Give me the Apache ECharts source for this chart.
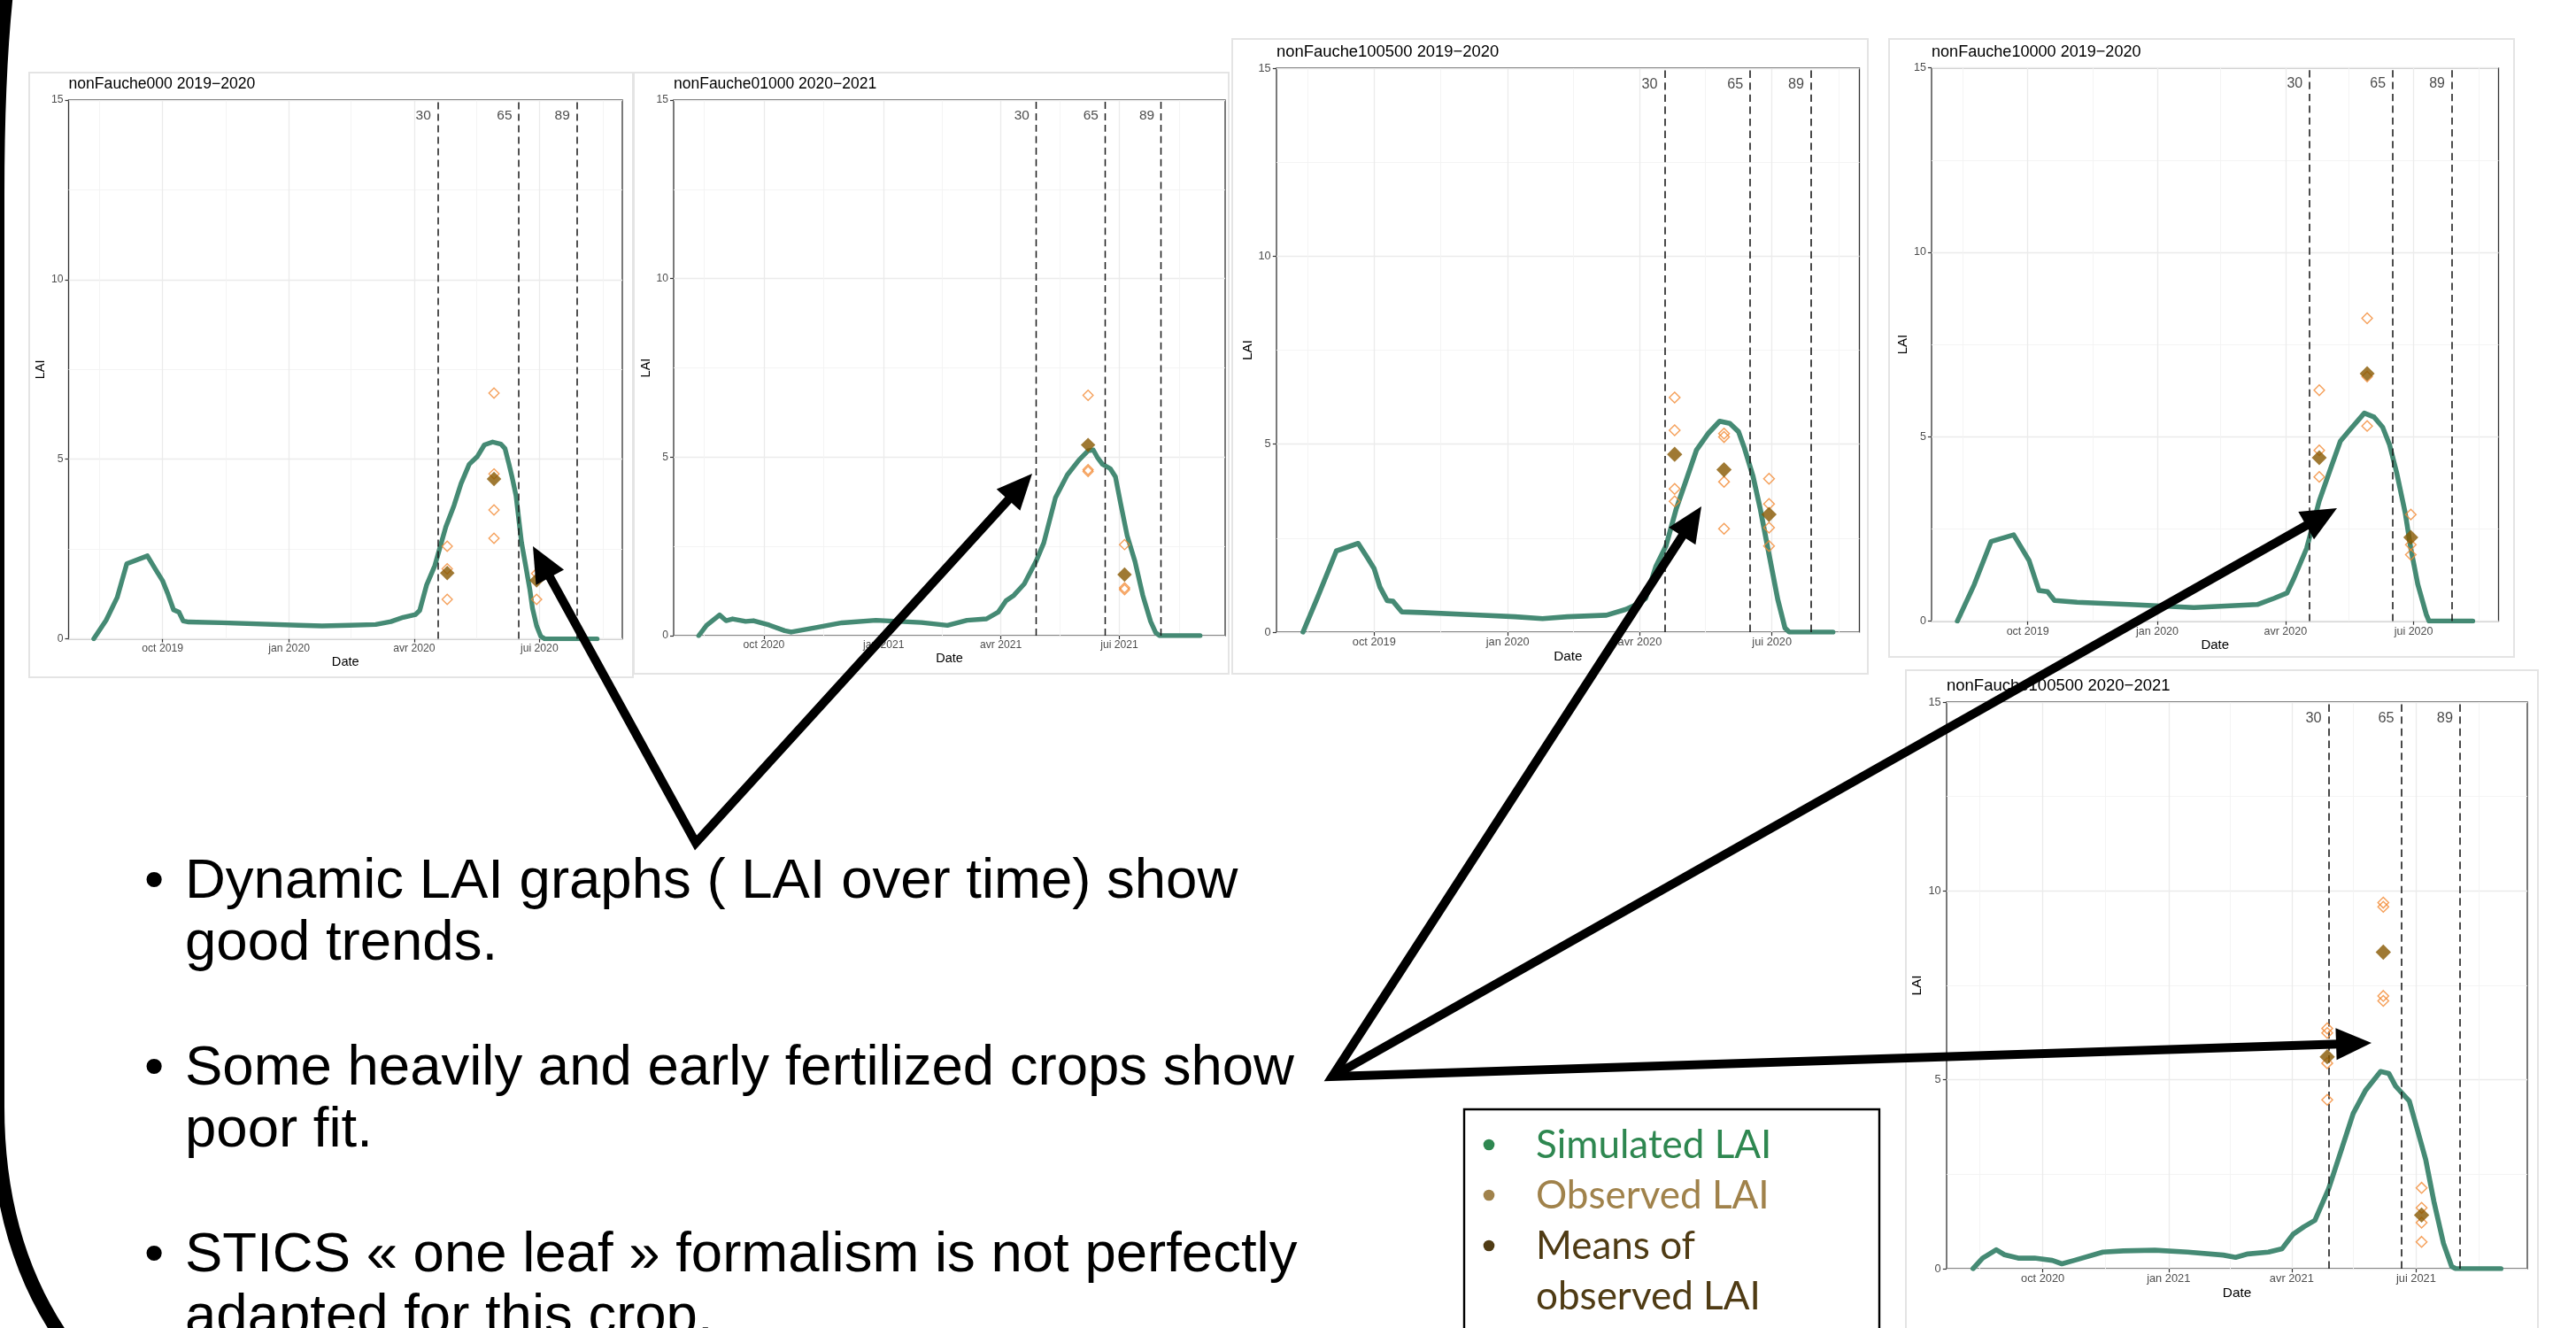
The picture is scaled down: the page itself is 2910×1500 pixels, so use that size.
<!DOCTYPE html>
<html><head><meta charset="utf-8">
<script src="https://cdn.jsdelivr.net/npm/echarts@6/dist/echarts.min.js"></script>
<style>html,body{margin:0;padding:0;background:#fff;overflow:hidden}#c{width:2910px;height:1500px}</style>
</head><body><div id="c"></div>
<script>
// ================= DATA =================
const Y_TICKS = [0, 5, 10, 15];
const STAGE_LABELS = ['30', '65', '89'];

// season 2019-2020 axis ticks / stages
const S1_TICK_DATES = ['2019-10-01', '2020-01-01', '2020-04-01', '2020-07-01'];
const S1_TICK_LABELS = ['oct 2019', 'jan 2020', 'avr 2020', 'jui 2020'];
const S1_MINOR_DATES = ['2019-08-16', '2019-11-16', '2020-02-15', '2020-05-16', '2020-08-16'];
const S1_STAGE_DATES = ['2020-04-18', '2020-06-16', '2020-07-28'];
// season 2020-2021
const S2_TICK_DATES = ['2020-10-01', '2021-01-01', '2021-04-01', '2021-07-01'];
const S2_TICK_LABELS = ['oct 2020', 'jan 2021', 'avr 2021', 'jui 2021'];
const S2_MINOR_DATES = ['2020-08-16', '2020-11-16', '2021-02-15', '2021-05-16', '2021-08-16'];
const S2_STAGE_DATES = ['2021-04-28', '2021-06-20', '2021-08-02'];

// ---- panel 1 ----
const P1_TITLE = 'nonFauche000 2019−2020';
const P1_SIM_DATES = ['2019-08-12','2019-08-21','2019-08-29','2019-09-05','2019-09-20','2019-09-26','2019-10-01','2019-10-05','2019-10-09','2019-10-13','2019-10-16','2019-10-20','2019-11-13','2020-01-08','2020-01-25','2020-02-14','2020-03-04','2020-03-15','2020-03-24','2020-04-02','2020-04-05','2020-04-10','2020-04-16','2020-04-24','2020-04-30','2020-05-05','2020-05-11','2020-05-17','2020-05-22','2020-05-28','2020-06-03','2020-06-06','2020-06-09','2020-06-11','2020-06-14','2020-06-16','2020-06-18','2020-06-21','2020-06-24','2020-06-26','2020-06-29','2020-07-02','2020-07-05','2020-08-12'];
const P1_SIM_LAI = [0,0.52,1.15,2.09,2.31,1.93,1.62,1.24,0.81,0.74,0.50,0.47,0.45,0.38,0.36,0.38,0.40,0.48,0.60,0.68,0.79,1.50,2.04,3.12,3.72,4.32,4.86,5.08,5.40,5.48,5.42,5.30,4.85,4.53,3.99,3.34,2.69,2.04,1.39,0.85,0.36,0.07,0,0];
const P1_OBS_DATES = ['2020-04-25','2020-04-25','2020-04-25','2020-05-29','2020-05-29','2020-05-29','2020-05-29','2020-06-29','2020-06-29'];
const P1_OBS_LAI = [2.58,1.95,1.10,6.84,4.59,3.59,2.80,1.82,1.10];
const P1_MEAN_DATES = ['2020-04-25','2020-05-29','2020-06-29'];
const P1_MEAN_LAI = [1.83,4.45,1.63];

// ---- panel 2 ----
const P2_TITLE = 'nonFauche01000 2020−2021';
const P2_SIM_DATES = ['2020-08-12','2020-08-18','2020-08-28','2020-09-02','2020-09-07','2020-09-17','2020-09-23','2020-10-05','2020-10-17','2020-10-22','2020-11-09','2020-11-30','2020-12-26','2021-01-30','2021-02-19','2021-03-06','2021-03-21','2021-03-30','2021-04-05','2021-04-11','2021-04-19','2021-04-28','2021-05-04','2021-05-13','2021-05-22','2021-05-31','2021-06-07','2021-06-11','2021-06-14','2021-06-18','2021-06-24','2021-06-28','2021-07-02','2021-07-07','2021-07-13','2021-07-19','2021-07-25','2021-07-29','2021-08-01','2021-09-01'];
const P2_SIM_LAI = [0,0.29,0.58,0.42,0.47,0.40,0.42,0.30,0.14,0.10,0.22,0.36,0.43,0.37,0.29,0.43,0.47,0.66,0.98,1.13,1.45,2.08,2.60,3.87,4.50,4.92,5.18,5.20,5.00,4.80,4.68,4.45,3.70,2.80,2.08,1.13,0.40,0.08,0,0];
const P2_OBS_DATES = ['2021-06-07','2021-06-07','2021-06-07','2021-07-05','2021-07-05','2021-07-05'];
const P2_OBS_LAI = [6.73,4.65,4.60,2.55,1.34,1.29];
const P2_MEAN_DATES = ['2021-06-07','2021-07-05'];
const P2_MEAN_LAI = [5.34,1.71];

// ---- panel 3 ----
const P3_TITLE = 'nonFauche100500 2019−2020';
const P3_SIM_DATES = ['2019-08-13','2019-08-23','2019-09-05','2019-09-20','2019-09-26','2019-10-01','2019-10-05','2019-10-10','2019-10-14','2019-10-20','2019-11-03','2019-12-09','2020-01-06','2020-01-25','2020-02-11','2020-03-09','2020-03-22','2020-03-29','2020-04-05','2020-04-12','2020-04-19','2020-04-26','2020-05-03','2020-05-10','2020-05-18','2020-05-26','2020-06-02','2020-06-08','2020-06-12','2020-06-18','2020-06-23','2020-06-29','2020-07-05','2020-07-10','2020-07-13','2020-08-12'];
const P3_SIM_LAI = [0,0.92,2.16,2.36,2.00,1.69,1.20,0.84,0.82,0.54,0.52,0.46,0.41,0.36,0.41,0.45,0.60,0.72,0.90,1.74,2.29,3.27,4.05,4.84,5.28,5.61,5.55,5.33,4.90,4.14,3.27,2.07,0.87,0.11,0,0];
const P3_OBS_DATES = ['2020-04-25','2020-04-25','2020-04-25','2020-04-25','2020-05-29','2020-05-29','2020-05-29','2020-05-29','2020-06-29','2020-06-29','2020-06-29','2020-06-29'];
const P3_OBS_LAI = [6.24,5.37,3.81,3.48,5.28,5.19,4.00,2.75,4.08,3.41,2.78,2.29];
const P3_MEAN_DATES = ['2020-04-25','2020-05-29','2020-06-29'];
const P3_MEAN_LAI = [4.73,4.32,3.13];

// ---- panel 4 ----
const P4_TITLE = 'nonFauche10000 2019−2020';
const P4_SIM_DATES = ['2019-08-12','2019-08-24','2019-09-05','2019-09-21','2019-10-02','2019-10-09','2019-10-15','2019-10-20','2019-11-05','2019-12-12','2020-01-27','2020-03-12','2020-03-24','2020-04-02','2020-04-07','2020-04-16','2020-04-25','2020-05-03','2020-05-10','2020-05-17','2020-05-27','2020-06-03','2020-06-09','2020-06-14','2020-06-19','2020-06-25','2020-06-29','2020-07-04','2020-07-10','2020-07-12','2020-08-12'];
const P4_SIM_LAI = [0,0.99,2.16,2.34,1.64,0.83,0.80,0.56,0.51,0.45,0.37,0.45,0.62,0.76,1.16,1.97,3.26,4.13,4.88,5.20,5.64,5.53,5.26,4.77,4.02,2.94,1.97,0.99,0.18,0,0];
const P4_OBS_DATES = ['2020-04-25','2020-04-25','2020-04-25','2020-05-29','2020-05-29','2020-05-29','2020-06-29','2020-06-29','2020-06-29'];
const P4_OBS_LAI = [6.26,4.63,3.91,8.21,6.63,5.29,2.89,2.07,1.80];
const P4_MEAN_DATES = ['2020-04-25','2020-05-29','2020-06-29'];
const P4_MEAN_LAI = [4.43,6.71,2.27];

// ---- panel 5 ----
const P5_TITLE = 'nonFauche100500 2020−2021';
const P5_SIM_DATES = ['2020-08-11','2020-08-18','2020-08-28','2020-09-03','2020-09-13','2020-09-25','2020-10-08','2020-10-15','2020-10-24','2020-11-14','2020-11-29','2020-12-22','2021-01-15','2021-02-10','2021-02-19','2021-02-28','2021-03-15','2021-03-25','2021-04-02','2021-04-10','2021-04-18','2021-04-28','2021-05-07','2021-05-16','2021-05-25','2021-06-05','2021-06-11','2021-06-16','2021-06-26','2021-07-02','2021-07-08','2021-07-14','2021-07-21','2021-07-27','2021-07-30','2021-09-01'];
const P5_SIM_LAI = [0,0.28,0.50,0.37,0.28,0.28,0.22,0.13,0.22,0.44,0.47,0.49,0.44,0.36,0.30,0.39,0.44,0.53,0.91,1.11,1.28,2.11,3.11,4.11,4.72,5.22,5.17,4.83,4.44,3.67,2.89,1.78,0.67,0.06,0,0];
const P5_OBS_DATES = ['2021-04-27','2021-04-27','2021-04-27','2021-04-27','2021-06-07','2021-06-07','2021-06-07','2021-06-07','2021-07-05','2021-07-05','2021-07-05','2021-07-05'];
const P5_OBS_LAI = [6.36,6.24,5.44,4.47,9.69,9.58,7.22,7.09,2.14,1.61,1.22,0.71];
const P5_MEAN_DATES = ['2021-04-27','2021-06-07','2021-07-05'];
const P5_MEAN_LAI = [5.61,8.38,1.42];

// slide text
const BULLET_LINES = [
  ['Dynamic LAI graphs ( LAI over time) show', 'good trends.'],
  ['Some heavily and early fertilized crops show', 'poor fit.'],
  ['STICS « one leaf » formalism is not perfectly', 'adapted for this crop.']
];
const LEGEND_ITEMS = [['Simulated LAI'], ['Observed LAI'], ['Means of', 'observed LAI']];

// ================= STYLE / LAYOUT =================
const FONT = '"Liberation Sans", Arial, sans-serif';
const SIM_COLOR = '#458a74';
const OBS_COLOR = '#f28a33';
const MEAN_COLOR = '#875800';
const LEGEND_COLORS = ['#2e8750', '#a0824b', '#4f3b14'];

const PANELS = [
  {title:P1_TITLE, simD:P1_SIM_DATES, simV:P1_SIM_LAI, obsD:P1_OBS_DATES, obsV:P1_OBS_LAI, meanD:P1_MEAN_DATES, meanV:P1_MEAN_LAI, stageD:S1_STAGE_DATES, tickD:S1_TICK_DATES, tickL:S1_TICK_LABELS, minorD:S1_MINOR_DATES,
   plot:[77.5,113,625.5,608.6], frame:[33,82,682,683], s:1.0},
  {title:P2_TITLE, simD:P2_SIM_DATES, simV:P2_SIM_LAI, obsD:P2_OBS_DATES, obsV:P2_OBS_LAI, meanD:P2_MEAN_DATES, meanV:P2_MEAN_LAI, stageD:S2_STAGE_DATES, tickD:S2_TICK_DATES, tickL:S2_TICK_LABELS, minorD:S2_MINOR_DATES,
   plot:[761,113,623,605], frame:[716,82,672,679], s:0.995},
  {title:P3_TITLE, simD:P3_SIM_DATES, simV:P3_SIM_LAI, obsD:P3_OBS_DATES, obsV:P3_OBS_LAI, meanD:P3_MEAN_DATES, meanV:P3_MEAN_LAI, stageD:S1_STAGE_DATES, tickD:S1_TICK_DATES, tickL:S1_TICK_LABELS, minorD:S1_MINOR_DATES,
   plot:[1442,77,658.5,637], frame:[1392,44,718,717], s:1.047},
  {title:P4_TITLE, simD:P4_SIM_DATES, simV:P4_SIM_LAI, obsD:P4_OBS_DATES, obsV:P4_OBS_LAI, meanD:P4_MEAN_DATES, meanV:P4_MEAN_LAI, stageD:S1_STAGE_DATES, tickD:S1_TICK_DATES, tickL:S1_TICK_LABELS, minorD:S1_MINOR_DATES,
   plot:[2182,76.6,640.5,625], frame:[2134,44,706,698], s:1.027},
  {title:P5_TITLE, simD:P5_SIM_DATES, simV:P5_SIM_LAI, obsD:P5_OBS_DATES, obsV:P5_OBS_LAI, meanD:P5_MEAN_DATES, meanV:P5_MEAN_LAI, stageD:S2_STAGE_DATES, tickD:S2_TICK_DATES, tickL:S2_TICK_LABELS, minorD:S2_MINOR_DATES,
   plot:[2199,793,656,640], frame:[2153,757,714,760], s:1.052}
];

const ts = str => { const [y, m, d] = str.split('-').map(Number); return Date.UTC(y, m - 1, d); };

const grid = [], xAxis = [], yAxis = [], series = [], graphics = [];

PANELS.forEach((P, i) => {
  const s = P.s;
  const [pl, pt, pw, ph] = P.plot;
  const simT = P.simD.map(ts);
  const span = simT[simT.length - 1] - simT[0];
  const xMin = simT[0] - 0.05 * span, xMax = simT[simT.length - 1] + 0.05 * span;
  const tickT = P.tickD.map(ts);
  const yMax = Y_TICKS[Y_TICKS.length - 1];

  const [fx, fy, fw, fh] = P.frame;
  graphics.push({type:'rect', z:-5, silent:true, shape:{x:fx, y:fy, width:fw, height:fh},
    style:{fill:'#fff', stroke:'#e4e4e4', lineWidth:2}});
  graphics.push({type:'text', z:10, silent:true, x:pl, y:pt - 11.5 * s - 0.3465 * 17.6 * s,
    style:{text:P.title, fill:'#000', fontSize:17.6 * s, fontFamily:FONT, align:'left', verticalAlign:'middle'}});

  grid.push({left:pl, top:pt, width:pw, height:ph, show:true, backgroundColor:'#fff', borderColor:'#333', borderWidth:1.3, containLabel:false});

  xAxis.push({type:'value', gridIndex:i, min:xMin, max:xMax, scale:true,
    axisLine:{show:false}, splitLine:{show:false},
    axisTick:{show:true, customValues:tickT, length:4 * s, lineStyle:{color:'#333', width:1.2}},
    axisLabel:{show:true, customValues:tickT, hideOverlap:false, color:'#4d4d4d', fontSize:12.2 * s, fontFamily:FONT, margin:5 * s,
      formatter:(v) => { let best = 0; tickT.forEach((t, k) => { if (Math.abs(t - v) < Math.abs(tickT[best] - v)) best = k; }); return P.tickL[best]; }},
    name:'Date', nameLocation:'middle', nameGap:19 * s,
    nameTextStyle:{color:'#000', fontSize:14.6 * s, fontFamily:FONT}});

  yAxis.push({type:'value', gridIndex:i, min:Y_TICKS[0], max:yMax, interval:Y_TICKS[1] - Y_TICKS[0],
    axisLine:{show:false},
    axisTick:{show:true, length:4 * s, lineStyle:{color:'#333', width:1.2}},
    axisLabel:{color:'#4d4d4d', fontSize:12.2 * s, fontFamily:FONT, margin:6 * s},
    splitLine:{show:true, lineStyle:{color:'#ebebeb', width:1.3}},
    minorTick:{show:false, splitNumber:2},
    minorSplitLine:{show:true, lineStyle:{color:'#f3f3f3', width:0.9}},
    name:'LAI', nameLocation:'middle', nameGap:24 * s, nameRotate:90,
    nameTextStyle:{color:'#000', fontSize:14.6 * s, fontFamily:FONT}});

  const gridLines = P.tickD.map(d => ({xAxis:ts(d), lineStyle:{color:'#ebebeb', width:1.3, type:'solid'}}))
    .concat(P.minorD.map(d => ({xAxis:ts(d), lineStyle:{color:'#f3f3f3', width:0.9, type:'solid'}})));
  series.push({type:'line', xAxisIndex:i, yAxisIndex:i, silent:true, z:3,
    data:simT.map((t, k) => [t, P.simV[k]]), symbol:'none', showSymbol:false,
    lineStyle:{color:SIM_COLOR, width:5.4 * s, cap:'round', join:'round'},
    markLine:{silent:true, z:1, symbol:['none', 'none'], label:{show:false}, animation:false, data:gridLines}});

  series.push({type:'scatter', xAxisIndex:i, yAxisIndex:i, silent:true, z:5,
    data:P.obsD.map((d, k) => [ts(d), P.obsV[k]]), symbol:'diamond', symbolSize:11.5 * s,
    itemStyle:{color:'rgba(255,255,255,0)', borderColor:OBS_COLOR, borderWidth:1.4 * s},
    markLine:{silent:true, z:4, symbol:['none', 'none'], label:{show:false}, animation:false,
      lineStyle:{color:'#1a1a1a', width:1.5 * s, type:[8 * s, 5 * s]},
      data:P.stageD.map(d => ({xAxis:ts(d)}))}});

  series.push({type:'scatter', xAxisIndex:i, yAxisIndex:i, silent:true, z:6,
    data:P.meanD.map((d, k) => [ts(d), P.meanV[k]]), symbol:'diamond', symbolSize:16.5 * s,
    itemStyle:{color:MEAN_COLOR}});

  const labY = yMax - (17.6 * s) * yMax / ph;
  series.push({type:'scatter', xAxisIndex:i, yAxisIndex:i, silent:true, z:7,
    data:P.stageD.map(d => [ts(d), labY]), symbolSize:1, itemStyle:{color:'rgba(0,0,0,0)'},
    label:{show:true, position:'left', distance:7 * s, formatter:(p) => STAGE_LABELS[p.dataIndex],
      color:'#1a1a1a', fontSize:15.5 * s, fontFamily:FONT}});
});

// ---- slide frame ----
graphics.push({type:'bezierCurve', z:50, silent:true, shape:{x1:-3, y1:220, cpx1:-3, cpy1:-60, x2:40, y2:-160}, style:{stroke:'#000', lineWidth:16, fill:null}});
graphics.push({type:'line', z:50, silent:true, shape:{x1:-3, y1:210, x2:-3, y2:1260}, style:{stroke:'#000', lineWidth:16}});
graphics.push({type:'bezierCurve', z:50, silent:true, shape:{x1:-3, y1:1250, cpx1:-3, cpy1:1440, x2:110, y2:1560}, style:{stroke:'#000', lineWidth:16, fill:null}});

// ---- bullet text ----
const BFS = 63.5, BULLET_BASE = [[1018, 1088], [1229, 1299], [1440, 1510]];
BULLET_LINES.forEach((lines, b) => {
  graphics.push({type:'text', z:20, silent:true, x:163, y:BULLET_BASE[b][0] - 0.3465 * BFS,
    style:{text:'•', fill:'#000', fontSize:BFS, fontFamily:FONT, align:'left', verticalAlign:'middle'}});
  lines.forEach((t, l) => graphics.push({type:'text', z:20, silent:true, x:209, y:BULLET_BASE[b][l] - 0.3465 * BFS,
    style:{text:t, fill:'#000', fontSize:BFS, fontFamily:FONT, align:'left', verticalAlign:'middle'}}));
});

// ---- legend box ----
graphics.push({type:'rect', z:20, silent:true, shape:{x:1654, y:1253, width:469, height:300}, style:{fill:'#fff', stroke:'#000', lineWidth:2.4}});
const LFS = 44, LEG_BASE = [[1311], [1368], [1425, 1482]];
LEGEND_ITEMS.forEach((lines, k) => {
  graphics.push({type:'circle', z:21, silent:true, shape:{cx:1682, cy:LEG_BASE[k][0] - 18, r:6.3}, style:{fill:LEGEND_COLORS[k]}});
  lines.forEach((t, l) => graphics.push({type:'text', z:21, silent:true, x:1735, y:LEG_BASE[k][l] - 0.387 * LFS,
    style:{text:t, fill:LEGEND_COLORS[k], fontSize:LFS, fontFamily:'Lato, "Open Sans", sans-serif', align:'left', verticalAlign:'middle'}}));
});

// ---- arrows ----
const AW = 10, HL = 40, HW = 36;
function head(ox, oy, tx, ty) {
  const dx = tx - ox, dy = ty - oy, L = Math.hypot(dx, dy), ux = dx / L, uy = dy / L;
  const bx = tx - ux * HL, by = ty - uy * HL, px = -uy, py = ux;
  graphics.push({type:'polygon', z:60, silent:true, shape:{points:[[tx, ty], [bx + px * HW / 2, by + py * HW / 2], [bx - px * HW / 2, by - py * HW / 2]]}, style:{fill:'#000'}});
  return [tx - ux * (HL - 4), ty - uy * (HL - 4)];
}
const A0 = [786, 952];
const a1 = head(A0[0], A0[1], 602, 617), a2 = head(A0[0], A0[1], 1166, 535);
graphics.push({type:'polyline', z:60, silent:true, shape:{points:[a1, A0, a2]}, style:{stroke:'#000', lineWidth:AW, lineJoin:'miter', miterLimit:20, fill:null}});
const B0 = [1505, 1216];
const b1 = head(B0[0], B0[1], 1922, 572), b2 = head(B0[0], B0[1], 2640, 574), b3 = head(B0[0], B0[1], 2679, 1178);
graphics.push({type:'polyline', z:60, silent:true, shape:{points:[b1, B0, b3]}, style:{stroke:'#000', lineWidth:AW, lineJoin:'miter', miterLimit:20, fill:null}});
graphics.push({type:'polyline', z:60, silent:true, shape:{points:[B0, b2]}, style:{stroke:'#000', lineWidth:AW, lineJoin:'miter', fill:null}});

const chart = echarts.init(document.getElementById('c'), null, {renderer:'canvas', width:2910, height:1500});
chart.setOption({
  backgroundColor:'#fff', animation:false, tooltip:{show:false},
  grid, xAxis, yAxis, series, graphic:{elements:graphics}
});
</script></body></html>
